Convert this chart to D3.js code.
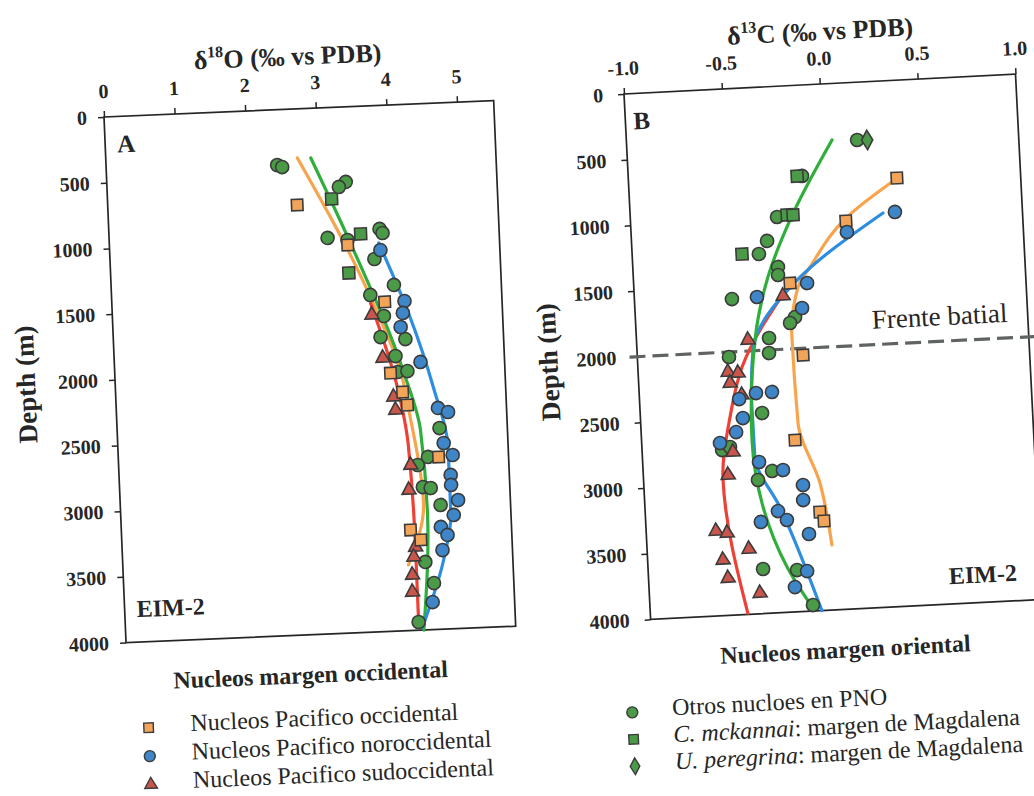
<!DOCTYPE html>
<html>
<head>
<meta charset="utf-8">
<script src="https://cdn.jsdelivr.net/npm/d3@7"></script>
<style>
  body { margin: 0; background: #fff; }
  svg { display: block; }
</style>
</head>
<body>
<div id="container"></div>
<script>
const width = 1034;
const height = 796;

// ---- data: [value, depth] ----
const depthTicks = [0, 500, 1000, 1500, 2000, 2500, 3000, 3500, 4000];
const o18Ticks = [0, 1, 2, 3, 4, 5];
const c13Ticks = [-1.0, -0.5, 0.0, 0.5, 1.0];

// panel A, d18O
const aOccidental = [[2.68, 730], [3.37, 1050], [3.86, 1494], [3.90, 2037], [4.06, 2185], [4.12, 2285], [4.53, 2690], [4.09, 3235], [4.23, 3314]];
const aNoroccidental = [[3.83, 1099], [4.14, 1494], [4.11, 1584], [4.07, 1690], [4.33, 1962], [4.55, 2317], [4.69, 2351], [4.61, 2585], [4.73, 2679], [4.69, 2830], [4.69, 2906], [4.78, 3023], [4.71, 3135], [4.52, 3222], [4.61, 3285], [4.53, 3398], [4.36, 3790]];
const aSudoccidental = [[3.67, 1589], [3.80, 1920], [3.93, 2219], [3.95, 2319], [4.13, 2742], [4.09, 2931], [4.15, 3366], [4.12, 3441], [4.09, 3578], [4.08, 3707]];
const aOtros = [[2.42, 420], [2.49, 437], [3.38, 570], [3.28, 606], [3.09, 990], [3.37, 1012], [3.83, 938], [3.87, 970], [3.74, 1165], [4.00, 1368], [3.66, 1437], [3.84, 1601], [3.78, 1760], [4.13, 1783], [3.98, 1909], [4.00, 2031], [4.14, 2027], [4.56, 2470], [4.23, 2744], [4.38, 2686], [4.29, 2913], [4.40, 2923], [4.53, 3055], [4.28, 3483], [4.39, 3646], [4.15, 3937]];
const aMckannai = [[3.17, 695], [3.56, 970], [3.37, 1263]];

const aLineOcc = [[2.71, 373], [3.66, 1452], [4.07, 2093], [4.13, 2300], [4.29, 3035], [4.04, 3500]];
const aLineNor = [[3.81, 1045], [4.19, 1586], [4.50, 2164], [4.67, 2617], [4.67, 3119], [4.54, 3474], [4.20, 3980]];
const aLineSud = [[3.66, 1500], [3.99, 2150], [4.11, 2600], [4.15, 3370], [4.15, 3960]];
const aLineOtros = [[2.90, 377], [3.41, 1036], [4.09, 2040], [4.29, 2480], [4.34, 3110], [4.22, 4000]];

// panel B, d13C
const bOccidental = [[0.369, 743], [0.098, 1050], [-0.203, 1500], [-0.155, 2052], [-0.218, 2694], [-0.110, 3250], [-0.091, 3320]];
const bNoroccidental = [[0.35, 1000], [0.10, 1134], [-0.116, 1506], [-0.375, 1593], [-0.148, 1694], [-0.405, 2322], [-0.323, 2320], [-0.492, 2361], [-0.478, 2507], [-0.516, 2611], [-0.601, 2688], [-0.407, 2847], [-0.287, 2917], [-0.189, 3039], [-0.192, 3153], [-0.323, 3227], [-0.28, 3298], [-0.413, 3303], [-0.171, 3413], [-0.19, 3694], [-0.256, 3811]];
const bSudoccidental = [[-0.242, 1595], [-0.432, 1916], [-0.542, 2152], [-0.491, 2163], [-0.534, 2236], [-0.477, 2332], [-0.537, 2761], [-0.568, 2934], [-0.644, 3355], [-0.588, 3374], [-0.481, 3504], [-0.616, 3577], [-0.595, 3717], [-0.436, 3843]];
const bOtros = [[0.176, 439], [-0.114, 691], [-0.252, 993], [-0.309, 1171], [-0.354, 1267], [-0.26, 1373], [-0.262, 1434], [-0.503, 1599], [-0.186, 1760], [-0.213, 1803], [-0.324, 1909], [-0.533, 2038], [-0.328, 2023], [-0.379, 2476], [-0.592, 2742], [-0.551, 2722], [-0.343, 2920], [-0.417, 2983], [-0.414, 3661], [-0.241, 3682], [-0.169, 3954]];
const bMckannai = [[-0.139, 690], [-0.20, 981], [-0.17, 984], [-0.44, 1261]];
const bPeregrina = [[0.227, 443]];

const bLineOcc = [[0.37, 745], [0.105, 1020], [-0.097, 1386], [-0.163, 1533], [-0.207, 1910], [-0.198, 2566], [-0.102, 3030], [-0.057, 3505]];
const bLineNor = [[0.289, 1003], [-0.166, 1480], [-0.409, 1994], [-0.429, 2427], [-0.427, 2807], [-0.312, 3197], [-0.125, 4000]];
const bLineSud = [[-0.20, 1500], [-0.469, 2119], [-0.543, 2494], [-0.595, 2970], [-0.503, 3990]];
const bLineOtros = [[0.048, 429], [-0.187, 1021], [-0.314, 1446], [-0.396, 1919], [-0.437, 2678], [-0.398, 3190], [-0.291, 3655], [-0.174, 3968]];

const frontDepth = 2000;
const frontExtent = [-1.04, 1.12];

const legendA = ['Nucleos Pacifico occidental', 'Nucleos Pacifico noroccidental', 'Nucleos Pacifico sudoccidental'];

// ---- styles ----
const serif = '"Liberation Serif", "Times New Roman", serif';
const ink = '#262626';
const col = {
    orange: '#f2a458', blue: '#3e86c8', red: '#c9564c', green: '#4b9a47',
    lOrange: '#f8a44c', lBlue: '#2d8de0', lRed: '#ee4136', lGreen: '#2fae3c'
};

const svg = d3.select('#container').append('svg')
    .attr('width', width)
    .attr('height', height);

const plotW = 390;
const plotH = 526;

const drawPanel = (p) => {
    const g = svg.append('g')
        .attr('transform', `translate(${p.ox},${p.oy}) rotate(${p.angle})`)
        .attr('font-family', serif)
        .attr('fill', ink);

    const x = d3.scaleLinear().domain(p.xDomain).range([0, p.w]);
    const y = d3.scaleLinear().domain([0, 4000]).range([0, plotH]);

    const xAxis = g.append('g')
        .call(d3.axisTop(x).tickValues(p.xTicks).tickSize(6).tickSizeOuter(0).tickPadding(13).tickFormat(p.xFormat));
    const yAxis = g.append('g')
        .call(d3.axisLeft(y).tickValues(depthTicks).tickSize(6).tickSizeOuter(0).tickPadding(p.yPad).tickFormat(d3.format('d')));
    [xAxis, yAxis].forEach(a => {
        a.attr('font-family', serif).attr('font-size', 20).attr('font-weight', 'bold');
        a.select('.domain').remove();
        a.selectAll('line').attr('stroke', ink).attr('stroke-width', 1.5);
        a.selectAll('text').attr('fill', ink);
    });

    g.append('rect')
        .attr('width', p.w).attr('height', plotH)
        .attr('fill', 'none').attr('stroke', ink).attr('stroke-width', 1.7);

    if (p.front) {
        g.append('line')
            .attr('x1', x(frontExtent[0])).attr('x2', x(frontExtent[1]))
            .attr('y1', y(frontDepth)).attr('y2', y(frontDepth))
            .attr('stroke', '#5f6462').attr('stroke-width', 3.2)
            .attr('stroke-dasharray', '16,7');
        g.append('text')
            .attr('x', 236).attr('y', 247)
            .attr('font-size', 27)
            .text('Frente batial');
    }

    const line = d3.line()
        .x(d => x(d[0])).y(d => y(d[1]))
        .curve(d3.curveMonotoneY);

    p.lines.forEach(l => {
        g.append('path')
            .datum(l.data)
            .attr('d', line)
            .attr('fill', 'none')
            .attr('stroke', l.color)
            .attr('stroke-width', 3.2)
            .attr('stroke-linecap', 'round');
    });

    p.points.forEach(s => {
        g.append('g').selectAll('path')
            .data(s.data)
            .join('path')
            .attr('transform', d => `translate(${x(d[0])},${y(d[1])})`)
            .attr('d', d3.symbol(s.type, s.size))
            .attr('fill', s.color)
            .attr('stroke', '#3b3b3b')
            .attr('stroke-width', 1.6);
    });

    // axis title with superscript
    const title = g.append('text')
        .attr('x', p.titleX).attr('y', -44)
        .attr('text-anchor', 'middle')
        .attr('font-size', 26)
        .attr('font-weight', 'bold');
    title.append('tspan').text('δ');
    title.append('tspan').attr('font-size', 16).attr('dy', -11).text(p.iso);
    title.append('tspan').attr('dy', 11).text(p.titleRest);

    g.append('text')
        .attr('transform', 'translate(-80,264) rotate(-90)')
        .attr('text-anchor', 'middle')
        .attr('font-size', 27)
        .attr('font-weight', 'bold')
        .text('Depth (m)');

    g.append('text')
        .attr('x', p.letterX).attr('y', 36)
        .attr('font-size', 25).attr('font-weight', 'bold')
        .text(p.letter);

    g.append('text')
        .attr('x', p.eimX).attr('y', p.eimY)
        .attr('text-anchor', p.eimAnchor)
        .attr('font-size', 24).attr('font-weight', 'bold')
        .text('EIM-2');

    g.append('text')
        .attr('x', p.captionX).attr('y', 574)
        .attr('text-anchor', 'middle')
        .attr('font-size', 24).attr('font-weight', 'bold')
        .text(p.caption);

    // legend
    const lg = g.append('g');
    p.legend.forEach((item, i) => {
        const base = p.legY + i * p.legStep;
        lg.append('path')
            .attr('transform', `translate(${p.legMarkX},${base - 5})`)
            .attr('d', d3.symbol(item.type, item.size))
            .attr('fill', item.color)
            .attr('stroke', '#3b3b3b')
            .attr('stroke-width', 1.4);
        const t = lg.append('text')
            .attr('x', p.legTextX).attr('y', base)
            .attr('font-size', 24);
        item.parts.forEach(part => {
            t.append('tspan')
                .attr('font-style', part.italic ? 'italic' : 'normal')
                .text(part.text);
        });
    });
};

drawPanel({
    ox: 104, oy: 117, angle: -2.4, w: plotW,
    xDomain: [0, 5.52], xTicks: o18Ticks, xFormat: d3.format('d'), yPad: 11,
    iso: '18', titleRest: 'O (‰ vs PDB)', titleX: 186,
    letter: 'A', letterX: 12, eimX: 12, eimY: 501, eimAnchor: 'start',
    caption: 'Nucleos margen occidental', captionX: 183,
    front: false,
    lines: [
        { data: aLineOcc, color: col.lOrange },
        { data: aLineSud, color: col.lRed },
        { data: aLineOtros, color: col.lGreen },
        { data: aLineNor, color: col.lBlue }
    ],
    points: [
        { data: aMckannai, type: d3.symbolSquare, size: 140, color: col.green },
        { data: aOtros, type: d3.symbolCircle, size: 135, color: col.green },
        { data: aSudoccidental, type: d3.symbolTriangle, size: 85, color: col.red },
        { data: aOccidental, type: d3.symbolSquare, size: 130, color: col.orange },
        { data: aNoroccidental, type: d3.symbolCircle, size: 135, color: col.blue }
    ],
    legMarkX: 19, legTextX: 61, legY: 617, legStep: 28.5,
    legend: [
        { type: d3.symbolSquare, size: 90, color: col.orange, parts: [{ text: legendA[0] }] },
        { type: d3.symbolCircle, size: 95, color: col.blue, parts: [{ text: legendA[1] }] },
        { type: d3.symbolTriangle, size: 70, color: col.red, parts: [{ text: legendA[2] }] }
    ]
});

drawPanel({
    ox: 624, oy: 94, angle: -2.9, w: 392,
    xDomain: [-1, 1], xTicks: c13Ticks, xFormat: d => d.toFixed(1), yPad: 15,
    iso: '13', titleRest: 'C (‰ vs PDB)', titleX: 199,
    letter: 'B', letterX: 8, eimX: 368, eimY: 506, eimAnchor: 'end',
    caption: 'Nucleos margen oriental', captionX: 193,
    front: true,
    lines: [
        { data: bLineOcc, color: col.lOrange },
        { data: bLineSud, color: col.lRed },
        { data: bLineNor, color: col.lBlue },
        { data: bLineOtros, color: col.lGreen }
    ],
    points: [
        { data: bOtros, type: d3.symbolCircle, size: 135, color: col.green },
        { data: bMckannai, type: d3.symbolSquare, size: 140, color: col.green },
        { data: bPeregrina, type: d3.symbolDiamond, size: 110, color: col.green },
        { data: bSudoccidental, type: d3.symbolTriangle, size: 85, color: col.red },
        { data: bOccidental, type: d3.symbolSquare, size: 130, color: col.orange },
        { data: bNoroccidental, type: d3.symbolCircle, size: 135, color: col.blue }
    ],
    legMarkX: -23, legTextX: 17, legY: 623, legStep: 27,
    legend: [
        { type: d3.symbolCircle, size: 95, color: col.green, parts: [{ text: 'Otros nucloes en PNO' }] },
        { type: d3.symbolSquare, size: 90, color: col.green, parts: [{ text: 'C. mckannai', italic: true }, { text: ': margen de Magdalena' }] },
        { type: d3.symbolDiamond, size: 80, color: col.green, parts: [{ text: 'U. peregrina', italic: true }, { text: ': margen de Magdalena' }] }
    ]
});
</script>
</body>
</html>
